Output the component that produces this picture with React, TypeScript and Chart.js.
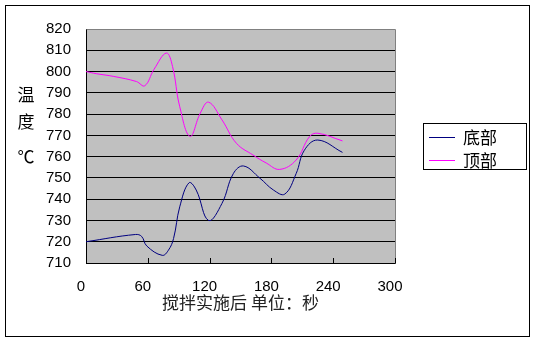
import React, { useEffect, useRef } from "react";
import { Chart, registerables } from "chart.js";

Chart.register(...registerables);

const seriesNames = ["底部", "顶部"];
const seriesColors = ["#000080", "#FF00FF"];

const timeBottom = [0, 48, 54, 59, 74, 80, 85, 91, 100, 107, 119, 132, 143, 153, 169, 182, 193, 204, 212, 225, 249];
const tempBottom = [720, 723.4, 722.5, 718, 713.6, 716, 721.5, 736.4, 747.7, 744.3, 730, 738, 752, 755.6, 749.8, 744.3, 742.4, 752, 763, 767.8, 762];

const timeTop = [0, 10, 27, 49, 57, 66, 78, 84, 91, 101, 111, 119, 132, 146, 162, 175, 188, 204, 217, 225, 249];
const tempTop = [800, 799, 797.7, 795.3, 793.3, 801, 808.7, 802.4, 783.5, 769.5, 780.5, 785.6, 777.3, 766.3, 760.8, 757, 754, 758.4, 769.4, 771, 767.4];

const xTicksMin = 0;
const xTicksMax = 300;
const xTickStep = 60;
const yTicksMin = 710;
const yTicksMax = 820;
const yTickStep = 10;

const xTitle = "搅拌实施后 单位：秒";
const yTitleChars = ["温", "度", "℃"];

const CJK = "'Noto Sans CJK SC', sans-serif";
const NUM = "'Liberation Sans', Arial, sans-serif";

const decorPlugin = {
  id: "decor",
  beforeDraw(chart: any) {
    const { ctx, chartArea: a } = chart;
    ctx.save();
    ctx.fillStyle = "#ffffff";
    ctx.fillRect(0, 0, chart.width, chart.height);
    ctx.fillStyle = "#C0C0C0";
    ctx.fillRect(a.left, a.top, a.right - a.left, a.bottom - a.top);
    ctx.restore();
  },
  afterDraw(chart: any) {
    const { ctx, chartArea: a } = chart;
    ctx.save();
    ctx.strokeStyle = "#808080";
    ctx.lineWidth = 1;
    ctx.beginPath();
    ctx.moveTo(Math.round(a.left) + 0.5, Math.round(a.top) + 0.5);
    ctx.lineTo(Math.round(a.right) + 0.5, Math.round(a.top) + 0.5);
    ctx.lineTo(Math.round(a.right) + 0.5, Math.round(a.bottom) + 0.5);
    ctx.stroke();
    const xs = chart.scales.x;
    ctx.strokeStyle = "#000000";
    ctx.beginPath();
    xs.ticks.forEach((t: any) => {
      const px = Math.round(xs.getPixelForValue(t.value)) + 0.5;
      ctx.moveTo(px, a.bottom);
      ctx.lineTo(px, a.bottom - 5);
    });
    ctx.stroke();
    ctx.strokeStyle = "#000000";
    ctx.strokeRect(5.5, 5.5, 524, 331);
    ctx.fillStyle = "#000000";
    ctx.font = `17px ${CJK}`;
    ctx.textAlign = "center";
    ctx.textBaseline = "middle";
    const ys = [95, 122, 157];
    yTitleChars.forEach((c, i) => ctx.fillText(c, 26, ys[i]));
    ctx.strokeRect(423.5, 123.5, 103, 46);
    const ly = [137, 160];
    chart.data.datasets.forEach((ds: any, i: number) => {
      ctx.strokeStyle = ds.borderColor;
      ctx.beginPath();
      ctx.moveTo(429, ly[i] + 0.5);
      ctx.lineTo(455, ly[i] + 0.5);
      ctx.stroke();
      ctx.fillStyle = "#000000";
      ctx.font = `17px ${CJK}`;
      ctx.textAlign = "left";
      ctx.textBaseline = "middle";
      ctx.fillText(ds.label, 463, ly[i] + 1);
    });
    ctx.restore();
  },
};

export default function App() {
  const ref = useRef<HTMLCanvasElement>(null);
  useEffect(() => {
    document.body.style.margin = "0";
    const canvas = ref.current!;
    const chart = new Chart(canvas, {
      type: "line",
      data: {
        datasets: [
          {
            label: seriesNames[0],
            data: timeBottom.map((x, i) => ({ x, y: tempBottom[i] })),
            borderColor: seriesColors[0],
            borderWidth: 1,
            pointRadius: 0,
            tension: 0.4,
            fill: false,
          },
          {
            label: seriesNames[1],
            data: timeTop.map((x, i) => ({ x, y: tempTop[i] })),
            borderColor: seriesColors[1],
            borderWidth: 1,
            pointRadius: 0,
            tension: 0.4,
            fill: false,
          },
        ],
      },
      options: {
        animation: false,
        responsive: false,
        devicePixelRatio: 1,
        layout: { padding: { left: 0, top: 29, right: 143, bottom: 0 } },
        plugins: {
          legend: { display: false },
          tooltip: { enabled: false },
        },
        scales: {
          x: {
            type: "linear",
            min: xTicksMin,
            max: xTicksMax,
            ticks: {
              stepSize: xTickStep,
              color: "#000",
              font: { family: NUM, size: 15 },
              padding: 15,
              maxRotation: 0,
              labelOffset: -5,
            },
            grid: { display: true, drawOnChartArea: false, drawTicks: false },
            border: { display: true, color: "#000", width: 1 },
            title: {
              display: true,
              text: xTitle,
              color: "#222",
              font: { family: CJK, size: 17 },
              padding: { top: 0, bottom: 31 },
            },
            afterFit: (s: any) => {
              s.height = 81;
            },
          },
          y: {
            min: yTicksMin,
            max: yTicksMax,
            ticks: {
              stepSize: yTickStep,
              color: "#000",
              font: { family: NUM, size: 15 },
              padding: 15,
            },
            grid: {
              drawTicks: false,
              color: (c: any) => (c.tick && c.tick.value === yTicksMax ? "#808080" : "#000000"),
              lineWidth: 1,
            },
            border: { display: true, color: "#000", width: 1 },
            afterFit: (s: any) => {
              s.width = 86;
            },
          },
        },
      },
      plugins: [decorPlugin],
    });
    return () => chart.destroy();
  }, []);
  return (
    <div style={{ width: 538, height: 344 }}>
      <canvas ref={ref} width={538} height={344} style={{ display: "block" }} />
    </div>
  );
}
